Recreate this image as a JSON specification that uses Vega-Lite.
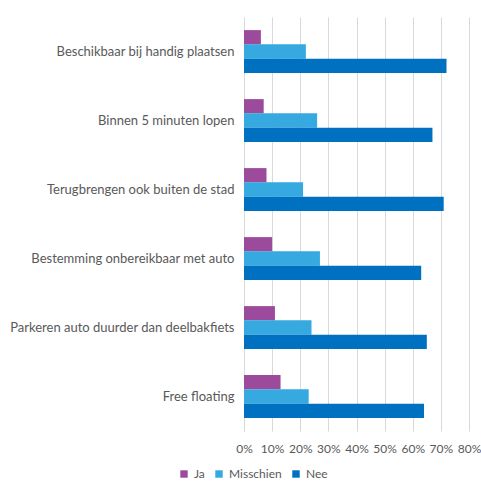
{
  "$schema": "https://vega.github.io/schema/vega-lite/v6.json",
  "autosize": "none",
  "width": 225,
  "height": 414,
  "padding": {"left": 244, "top": 17, "right": 12, "bottom": 51},
  "background": "white",
  "data": {"values": [
    {"cat": "Beschikbaar bij handig plaatsen", "s": "Ja", "v": 0.06},
    {"cat": "Beschikbaar bij handig plaatsen", "s": "Misschien", "v": 0.22},
    {"cat": "Beschikbaar bij handig plaatsen", "s": "Nee", "v": 0.72},
    {"cat": "Binnen 5 minuten lopen", "s": "Ja", "v": 0.07},
    {"cat": "Binnen 5 minuten lopen", "s": "Misschien", "v": 0.26},
    {"cat": "Binnen 5 minuten lopen", "s": "Nee", "v": 0.67},
    {"cat": "Terugbrengen ook buiten de stad", "s": "Ja", "v": 0.08},
    {"cat": "Terugbrengen ook buiten de stad", "s": "Misschien", "v": 0.21},
    {"cat": "Terugbrengen ook buiten de stad", "s": "Nee", "v": 0.71},
    {"cat": "Bestemming onbereikbaar met auto", "s": "Ja", "v": 0.10},
    {"cat": "Bestemming onbereikbaar met auto", "s": "Misschien", "v": 0.27},
    {"cat": "Bestemming onbereikbaar met auto", "s": "Nee", "v": 0.63},
    {"cat": "Parkeren auto duurder dan deelbakfiets", "s": "Ja", "v": 0.11},
    {"cat": "Parkeren auto duurder dan deelbakfiets", "s": "Misschien", "v": 0.24},
    {"cat": "Parkeren auto duurder dan deelbakfiets", "s": "Nee", "v": 0.65},
    {"cat": "Free floating", "s": "Ja", "v": 0.13},
    {"cat": "Free floating", "s": "Misschien", "v": 0.23},
    {"cat": "Free floating", "s": "Nee", "v": 0.64}
  ]},
  "mark": {"type": "bar"},
  "encoding": {
    "y": {
      "field": "cat", "type": "nominal", "sort": null, "title": null,
      "scale": {"paddingInner": 0.38, "paddingOuter": 0.19},
      "axis": {"domain": true, "domainColor": "#D9D9D9", "ticks": false, "labelPadding": 10, "labelFont": "Lato", "labelFontSize": 13, "labelColor": "#595959", "labelLimit": 260}
    },
    "yOffset": {"field": "s", "type": "nominal", "sort": ["Ja", "Misschien", "Nee"]},
    "x": {
      "field": "v", "type": "quantitative", "title": null,
      "scale": {"domain": [0, 0.8]},
      "axis": {"format": ".0%", "values": [0,0.1,0.2,0.3,0.4,0.5,0.6,0.7,0.8], "labelOverlap": false, "labelFlush": false, "domain": false, "ticks": false, "grid": true, "gridColor": "#D9D9D9", "labelPadding": 12, "labelFont": "Lato", "labelFontSize": 12, "labelColor": "#595959"}
    },
    "color": {
      "field": "s", "type": "nominal", "sort": ["Ja", "Misschien", "Nee"],
      "scale": {"domain": ["Ja", "Misschien", "Nee"], "range": ["#9B4A9C", "#36A9E0", "#0070C0"]},
      "legend": {"title": null, "orient": "none", "legendX": -66, "legendY": 451, "direction": "horizontal", "symbolType": "square", "symbolSize": 55, "labelFont": "Lato", "labelFontSize": 12, "labelColor": "#595959", "columnPadding": 8, "labelOffset": 4, "symbolOffset": 0}
    }
  },
  "config": {"view": {"stroke": null}}
}
